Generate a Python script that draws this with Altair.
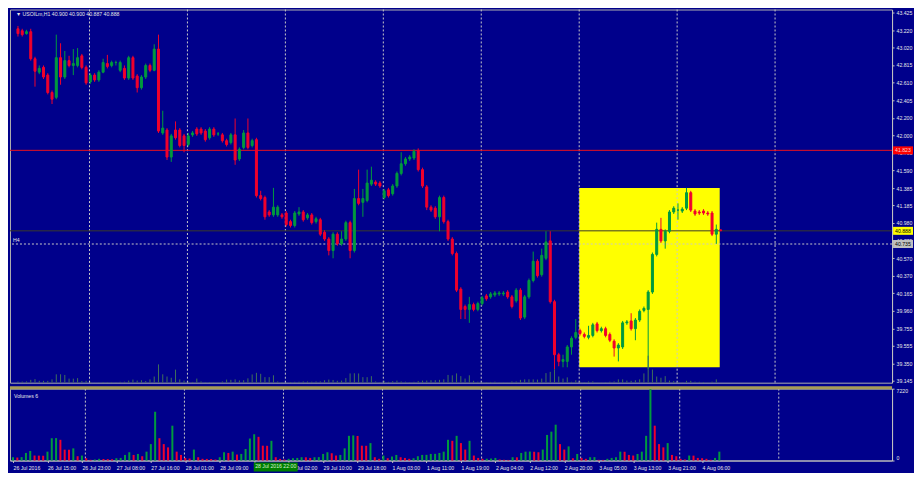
import altair as alt
import pandas as pd
import numpy as np

# ---------------- data ----------------
opens = [43.235, 43.212, 43.179, 43.201, 42.887, 42.731, 42.787, 42.697, 42.495, 42.439,
         42.899, 42.675, 42.865, 42.809, 42.809, 42.921, 42.787, 42.619, 42.697, 42.641,
         42.731, 42.831, 42.809, 42.843, 42.753, 42.775, 42.663, 42.899, 42.686, 42.551,
         42.675, 42.809, 42.753, 42.999, 42.025, 42.059, 41.745, 42.059, 42.059, 41.991,
         41.891, 42.003, 42.070, 42.070, 42.047, 41.969, 42.070, 42.014, 42.003, 41.935,
         41.913, 42.003, 41.723, 41.857, 42.025, 41.879, 41.947, 41.297, 41.275, 41.107,
         41.073, 41.073, 41.073, 41.095, 40.995, 40.950, 41.084, 41.107, 41.039, 41.073,
         40.995, 41.017, 40.871, 40.793, 40.659, 40.849, 40.737, 40.793, 40.983, 40.659,
         41.263, 41.219, 41.241, 41.431, 41.454, 41.443, 41.275, 41.364, 41.319, 41.409,
         41.555, 41.667, 41.723, 41.734, 41.823, 41.599, 41.398, 41.163, 41.151, 41.051,
         41.275, 40.995, 40.793, 40.625, 40.211, 40.009, 39.975, 40.031, 39.975, 40.043,
         40.132, 40.121, 40.143, 40.155, 40.155, 40.177, 40.121, 40.076, 40.199, 39.886,
         40.121, 40.311, 40.535, 40.379, 40.569, 40.771, 40.065, 39.449, 39.371, 39.371,
         39.539, 39.651, 39.729, 39.684, 39.651, 39.673, 39.807, 39.729, 39.751, 39.684,
         39.606, 39.527, 39.539, 39.819, 39.841, 39.751, 39.852, 39.964, 39.975, 40.177,
         40.614, 40.905, 40.771, 40.883, 41.107, 41.129, 41.118, 41.151, 41.331, 41.118,
         41.107, 41.118, 41.095, 41.095, 40.849, 40.900]
closes = [43.179, 43.167, 43.201, 42.887, 42.742, 42.775, 42.675, 42.495, 42.417, 42.899,
          42.675, 42.865, 42.809, 42.831, 42.899, 42.787, 42.607, 42.697, 42.641, 42.731,
          42.843, 42.798, 42.843, 42.843, 42.843, 42.663, 42.899, 42.663, 42.551, 42.675,
          42.809, 42.753, 42.999, 42.047, 42.081, 41.745, 41.991, 41.969, 41.879, 41.879,
          41.991, 42.025, 42.014, 42.025, 41.947, 42.070, 42.003, 42.014, 41.935, 41.891,
          42.003, 41.711, 41.835, 42.025, 41.857, 41.935, 41.297, 41.263, 41.051, 41.073,
          41.163, 41.163, 41.051, 40.961, 40.950, 41.095, 41.107, 41.017, 41.073, 40.983,
          41.028, 40.849, 40.793, 40.659, 40.849, 40.737, 40.793, 40.983, 40.659, 41.263,
          41.207, 41.263, 41.443, 41.476, 41.431, 41.409, 41.353, 41.297, 41.409, 41.555,
          41.667, 41.723, 41.745, 41.812, 41.599, 41.409, 41.163, 41.129, 41.051, 41.275,
          40.995, 40.793, 40.625, 40.199, 39.975, 39.975, 40.031, 39.975, 40.043, 40.110,
          40.099, 40.155, 40.166, 40.166, 40.166, 40.121, 40.009, 40.199, 39.875, 40.121,
          40.311, 40.535, 40.367, 40.603, 40.759, 40.065, 39.449, 39.371, 39.393, 39.539,
          39.639, 39.707, 39.695, 39.662, 39.673, 39.796, 39.729, 39.751, 39.673, 39.617,
          39.527, 39.561, 39.819, 39.830, 39.751, 39.852, 39.953, 39.987, 40.177, 40.614,
          40.905, 40.771, 40.883, 41.107, 41.151, 41.129, 41.140, 41.331, 41.129, 41.084,
          41.095, 41.095, 41.084, 40.849, 40.905, 40.888]
highs = [43.268, 43.235, 43.223, 43.235, 42.910, 42.809, 42.809, 42.719, 42.518, 43.167,
         43.067, 42.977, 42.921, 42.999, 43.011, 42.943, 42.809, 42.719, 42.719, 42.753,
         42.887, 42.932, 42.865, 42.865, 42.865, 42.809, 42.921, 42.921, 42.708, 42.697,
         42.831, 42.831, 43.055, 43.167, 42.283, 42.081, 42.014, 42.159, 42.081, 42.014,
         42.025, 42.047, 42.092, 42.092, 42.070, 42.092, 42.092, 42.036, 42.025, 41.958,
         42.025, 42.193, 41.857, 42.059, 42.193, 41.958, 41.969, 41.353, 41.297, 41.129,
         41.387, 41.185, 41.095, 41.118, 41.017, 41.118, 41.163, 41.129, 41.095, 41.095,
         41.051, 41.039, 40.894, 40.815, 40.871, 40.871, 40.883, 41.006, 41.006, 41.375,
         41.599, 41.375, 41.599, 41.633, 41.476, 41.465, 41.375, 41.387, 41.431, 41.577,
         41.801, 41.745, 41.767, 41.835, 41.846, 41.622, 41.420, 41.185, 41.174, 41.297,
         41.297, 41.017, 40.815, 40.647, 40.233, 40.031, 40.121, 40.054, 40.065, 40.132,
         40.155, 40.177, 40.188, 40.188, 40.188, 40.199, 40.143, 40.222, 40.222, 40.143,
         40.334, 40.647, 40.558, 40.681, 40.883, 40.883, 40.087, 39.471, 39.449, 39.561,
         39.662, 39.863, 39.751, 39.707, 39.785, 39.819, 39.830, 39.774, 39.774, 39.707,
         39.628, 39.583, 39.841, 39.852, 39.931, 39.875, 39.975, 40.009, 40.199, 40.636,
         40.983, 41.039, 40.905, 41.129, 41.174, 41.207, 41.163, 41.387, 41.353, 41.140,
         41.129, 41.140, 41.118, 41.118, 40.961, 40.900]
lows = [43.145, 43.145, 43.167, 42.865, 42.563, 42.708, 42.652, 42.473, 42.361, 42.417,
        42.585, 42.652, 42.787, 42.697, 42.787, 42.764, 42.585, 42.596, 42.619, 42.619,
        42.719, 42.775, 42.787, 42.809, 42.731, 42.641, 42.641, 42.641, 42.495, 42.529,
        42.652, 42.731, 42.742, 42.025, 42.003, 41.711, 41.689, 41.947, 41.857, 41.801,
        41.868, 41.980, 41.991, 42.003, 41.924, 41.947, 41.980, 41.991, 41.913, 41.868,
        41.891, 41.655, 41.700, 41.835, 41.835, 41.857, 41.275, 41.241, 41.017, 41.051,
        41.051, 41.051, 41.028, 40.939, 40.927, 40.927, 41.062, 40.995, 41.017, 40.961,
        40.972, 40.827, 40.771, 40.603, 40.569, 40.715, 40.715, 40.771, 40.569, 40.636,
        41.185, 41.051, 41.219, 41.409, 41.409, 41.387, 41.252, 41.275, 41.297, 41.387,
        41.532, 41.644, 41.700, 41.711, 41.577, 41.387, 41.129, 41.107, 41.028, 40.883,
        40.972, 40.771, 40.603, 40.177, 39.863, 39.863, 39.819, 39.953, 39.953, 40.020,
        40.076, 40.099, 40.121, 40.132, 40.132, 40.099, 39.987, 40.054, 39.852, 39.863,
        40.099, 40.289, 40.345, 40.356, 40.547, 40.043, 39.281, 39.315, 39.303, 39.303,
        39.449, 39.628, 39.673, 39.639, 39.628, 39.651, 39.707, 39.707, 39.651, 39.595,
        39.427, 39.371, 39.516, 39.796, 39.729, 39.617, 39.830, 39.942, 39.281, 40.155,
        40.591, 40.748, 40.681, 40.860, 41.084, 41.017, 41.095, 41.129, 41.107, 41.062,
        41.073, 41.073, 41.062, 40.827, 40.737, 40.887]
volumes = [330, 300, 340, 760, 960, 500, 490, 480, 890, 2240,
           2250, 2080, 1090, 1080, 1220, 430, 500, 230, 70, 100,
           170, 150, 140, 130, 230, 260, 560, 830, 560, 660,
           430, 890, 1650, 4900, 2240, 1650, 1320, 3500, 890, 560,
           260, 200, 1100, 330, 170, 160, 150, 100, 330, 830,
           760, 890, 600, 660, 1160, 2210, 2640, 2380, 1490, 1480,
           1980, 330, 160, 100, 170, 230, 260, 330, 320, 260,
           330, 340, 660, 830, 730, 500, 560, 1220, 2480, 2520,
           2470, 1490, 1480, 1750, 330, 170, 500, 230, 400, 560,
           330, 260, 170, 230, 430, 560, 570, 660, 670, 760,
           890, 2080, 1980, 2480, 1750, 1100, 1980, 500, 260, 170,
           180, 200, 260, 100, 70, 60, 330, 320, 760, 890,
           900, 880, 830, 1100, 2570, 2900, 3600, 1650, 1100, 1420,
           230, 660, 260, 170, 330, 340, 70, 60, 170, 260,
           330, 890, 880, 560, 500, 660, 890, 2480, 7220, 3500,
           1650, 1320, 1750, 560, 430, 170, 100, 500, 490, 260,
           230, 170, 70, 260, 890, 6]

time_labels = ["26 Jul 2016", "26 Jul 15:00", "26 Jul 23:00", "27 Jul 08:00", "27 Jul 16:00",
               "28 Jul 01:00", "28 Jul 09:00", "28 Jul 17:00", "29 Jul 02:00", "29 Jul 10:00",
               "29 Jul 18:00", "1 Aug 03:00", "1 Aug 11:00", "1 Aug 19:00", "2 Aug 04:00",
               "2 Aug 12:00", "2 Aug 20:00", "3 Aug 05:00", "3 Aug 13:00", "3 Aug 21:00",
               "4 Aug 06:00"]
label_step = 8
price_ticks = [43.425, 43.220, 43.020, 42.815, 42.610, 42.405, 42.200, 42.000, 41.795, 41.590,
               41.385, 41.185, 40.980, 40.775, 40.570, 40.370, 40.165, 39.960, 39.755, 39.555,
               39.350, 39.145]
volume_ticks = [0, 7220]
grid_bars = [16.8, 39.8, 62.8, 85.8, 108.8, 131.8, 154.8, 177.8]
level_red = 41.823
level_bid = 40.888
level_h4 = 40.735
box = {"x0": 131.8, "x1": 164.8, "top": 41.387, "bottom": 39.303}
marker_bar = 61.0
marker_label = "28 Jul 2016 22:00"
title_text = "\u25bc USOILm,H1  40.900 40.900 40.887 40.888"
volume_title = "Volumes 6"

# ---------------- layout / style ----------------
W, H1, H2 = 884, 374, 72
XDOM = [-0.7, 204.1]
PDOM = [39.124, 43.459]
BG = "#00008B"
UP, DOWN = "#009a3e", "#f0002c"
FONT = "Liberation Sans"
FS = 5.2
LBL = "#e8e8e8"
GRID = "#c8c8c8"

n = len(opens)
df = pd.DataFrame({"i": np.arange(n), "open": opens, "close": closes,
                   "high": highs, "low": lows, "volume": volumes})
df["dir"] = np.where(df["close"] >= df["open"], "up", "down")
vd = df["volume"].diff().fillna(1)
df["vdir"] = np.where(vd > 0, "up", "down")

xs = alt.Scale(domain=XDOM, nice=False, zero=False)
ps = alt.Scale(domain=PDOM, nice=False, zero=False)
pax = alt.Axis(orient="right", values=price_ticks, format=".3f", title=None,
               tickSize=2, labelPadding=2, labelOverlap=False, grid=False,
               labelFontSize=FS, labelFont=FONT, labelColor=LBL,
               tickColor="#c0c0c0", domainColor="#c0c0c0")
col = alt.Color("dir:N", scale=alt.Scale(domain=["up", "down"], range=[UP, DOWN]), legend=None)
vcol = alt.Color("vdir:N", scale=alt.Scale(domain=["up", "down"], range=[UP, DOWN]), legend=None)

box_df = pd.DataFrame([box])
grid_df = pd.DataFrame({"g": grid_bars})

rect = alt.Chart(box_df).mark_rect(color="#ffff00").encode(
    x=alt.X("x0:Q", scale=xs, axis=None), x2="x1:Q",
    y=alt.Y("top:Q", scale=ps, axis=pax), y2="bottom:Q")

vgrid = alt.Chart(grid_df).mark_rule(color=GRID, strokeDash=[2, 2], strokeWidth=1).encode(
    x=alt.X("g:Q", scale=xs, axis=None))

h4line = alt.Chart(pd.DataFrame({"p": [level_h4]})).mark_rule(
    color=GRID, strokeDash=[2, 2], strokeWidth=1).encode(y=alt.Y("p:Q", scale=ps, axis=pax))
redline = alt.Chart(pd.DataFrame({"p": [level_red]})).mark_rule(color="#e8101e", strokeWidth=1).encode(
    y=alt.Y("p:Q", scale=ps, axis=pax))
bidline = alt.Chart(pd.DataFrame({"p": [level_bid]})).mark_rule(color="#3a3a2a", strokeWidth=1).encode(
    y=alt.Y("p:Q", scale=ps, axis=pax))

wick = alt.Chart(df).mark_rule(strokeWidth=1).encode(
    x=alt.X("i:Q", scale=xs, axis=None),
    y=alt.Y("low:Q", scale=ps, axis=pax), y2="high:Q", color=col)
body = alt.Chart(df).mark_bar(size=2, strokeWidth=1).encode(
    x=alt.X("i:Q", scale=xs, axis=None),
    y=alt.Y("open:Q", scale=ps, axis=pax), y2="close:Q", color=col, stroke=col)

title = alt.Chart(pd.DataFrame({"t": [title_text]})).mark_text(
    align="left", baseline="top", font=FONT, fontSize=FS, color=LBL).encode(
    x=alt.value(6), y=alt.value(3), text="t:N")
h4txt = alt.Chart(pd.DataFrame({"p": [level_h4], "t": ["H4"]})).mark_text(
    align="left", baseline="bottom", font=FONT, fontSize=FS, color=LBL, dy=-1).encode(
    x=alt.value(3), y=alt.Y("p:Q", scale=ps, axis=pax), text="t:N")

tag_layers = []
for price_level, fill, ink in [(level_red, "#ff0000", "#ffd0d0"),
                               (level_bid, "#ffff00", "#000000"),
                               (level_h4, "#c0c0c0", "#000000")]:
    tdf = pd.DataFrame({"p": [price_level], "t": [f"{price_level:.3f}"]})
    tag_layers.append(alt.Chart(tdf).mark_rect(clip=False, yOffset=-4, y2Offset=4, color=fill).encode(
        x=alt.value(W + 1), x2=alt.value(W + 21),
        y=alt.Y("p:Q", scale=ps, axis=pax), y2="p:Q"))
    tag_layers.append(alt.Chart(tdf).mark_text(clip=False, align="left", baseline="middle",
                                               font=FONT, fontSize=FS, color=ink).encode(
        x=alt.value(W + 3), y=alt.Y("p:Q", scale=ps, axis=pax), text="t:N"))

overlay = alt.Chart(df).mark_rule(color="#3f6f5a", strokeWidth=1).encode(
    x=alt.X("i:Q", scale=xs, axis=None),
    y=alt.Y("volume:Q", scale=alt.Scale(domain=[0, 100000], nice=False, zero=True), axis=None),
    y2=alt.datum(0))

price_main = alt.layer(rect, vgrid, h4line, redline, bidline, wick, body, h4txt, title,
                       *tag_layers)
price = alt.layer(price_main, overlay).resolve_scale(y="independent").properties(width=W, height=H1)

label_arr = "[" + ",".join("'" + t + "'" for t in time_labels) + "]"
xax = alt.Axis(orient="bottom", values=list(range(0, label_step * len(time_labels), label_step)),
               labelExpr=label_arr + "[round(datum.value/" + str(label_step) + ")]",
               labelAlign="left", labelPadding=3, tickSize=2, labelOverlap=False, grid=False,
               title=None, labelFontSize=FS, labelFont=FONT, labelColor=LBL,
               tickColor="#c0c0c0", domainColor="#c0c0c0", labelFlush=False)
vax = alt.Axis(orient="right", values=volume_ticks, format="d", title=None, tickSize=2,
               labelPadding=2, grid=False, labelFontSize=FS, labelFont=FONT, labelColor=LBL,
               tickColor="#c0c0c0", domainColor="#c0c0c0", labelFlush=True)
vs = alt.Scale(domain=[0, 7220], nice=False, zero=True)

vgrid2 = alt.Chart(grid_df).mark_rule(color=GRID, strokeDash=[2, 2], strokeWidth=1).encode(
    x=alt.X("g:Q", scale=xs, axis=xax))
vbars = alt.Chart(df).mark_rule(strokeWidth=2).encode(
    x=alt.X("i:Q", scale=xs, axis=xax),
    y=alt.Y("volume:Q", scale=vs, axis=vax), y2=alt.datum(0), color=vcol)
vtitle = alt.Chart(pd.DataFrame({"t": [volume_title]})).mark_text(
    align="left", baseline="top", font=FONT, fontSize=FS, color=LBL).encode(
    x=alt.value(4), y=alt.value(5), text="t:N")
sep = alt.Chart(pd.DataFrame({"a": [0]})).mark_rule(clip=False, color="#a89c58", strokeWidth=3).encode(
    x=alt.value(0), x2=alt.value(W), y=alt.value(-1))
mk = pd.DataFrame({"b": [marker_bar], "t": [marker_label]})
mtxt = alt.Chart(mk).mark_text(clip=False, align="center", baseline="top", font=FONT, fontSize=FS,
                               color="#d8f0d8").encode(
    x=alt.X("b:Q", scale=xs, axis=xax), y=alt.value(H2 + 4), text="t:N")
mbg = alt.Chart(mk).mark_rect(clip=False, color="#008000", xOffset=-22, x2Offset=22,
                              yOffset=2, y2Offset=11).encode(
    x=alt.X("b:Q", scale=xs, axis=xax), x2="b:Q", y=alt.value(H2), y2=alt.value(H2))
volume = alt.layer(vgrid2, vbars, vtitle, sep, mbg, mtxt).properties(width=W, height=H2)

chart = alt.vconcat(price, volume, spacing=1).properties(
    padding={"left": 0, "right": 0, "top": 0, "bottom": 0}
).configure(background=BG).configure_view(stroke="#b0b0b0", strokeWidth=1)

chart.save("out.html", embed_options={"renderer": "svg", "actions": False})
